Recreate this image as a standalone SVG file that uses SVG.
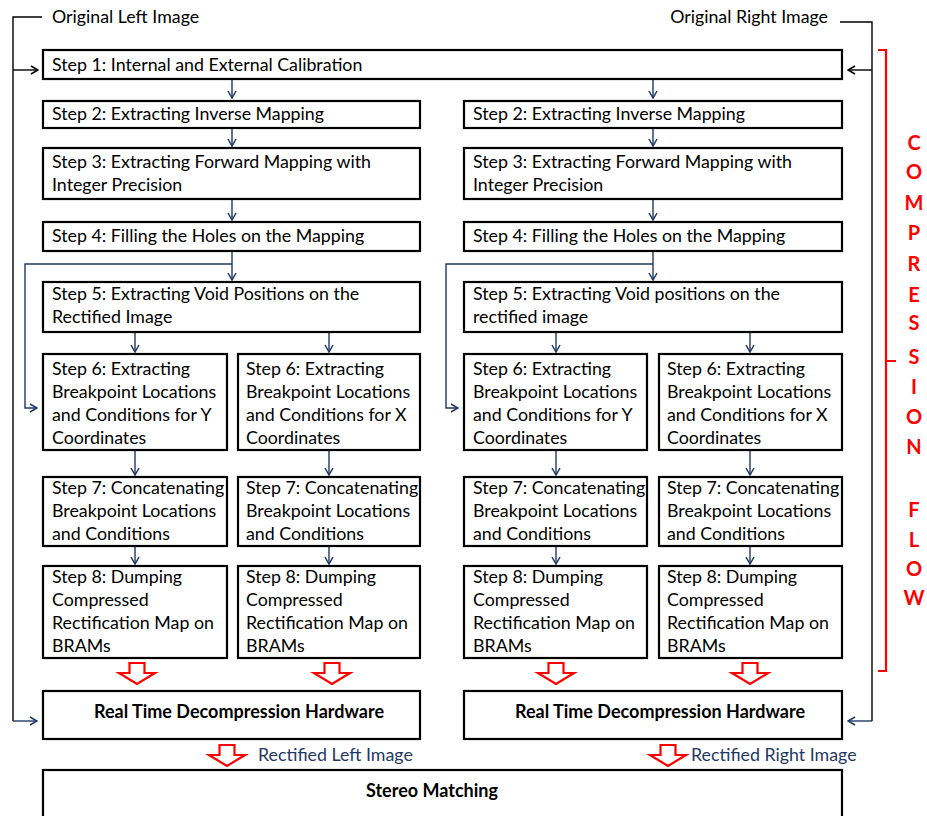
<svg xmlns="http://www.w3.org/2000/svg" width="927" height="816" viewBox="0 0 927 816">
<defs>
<style>
.box{fill:#fff;stroke:#000;stroke-width:2.2}
.t{font-family:Lato,"Liberation Sans",sans-serif;font-size:17.8px;fill:#000}
.b{font-family:Lato,"Liberation Sans",sans-serif;font-size:18px;font-weight:bold;fill:#000}
.lbl{font-family:Lato,"Liberation Sans",sans-serif;font-size:17.8px;fill:#1F3864}
.cf{font-family:Lato,"Liberation Sans",sans-serif;font-size:20px;font-weight:bold;fill:#FF0000;text-anchor:middle}
.blu{fill:none;stroke:#1F3864;stroke-width:1.4}
.blk{fill:none;stroke:#000;stroke-width:1.4}
.red{fill:#fff;stroke:#FF0000;stroke-width:2.2;stroke-linejoin:miter}
</style>
<marker id="ab" viewBox="0 0 10 10" refX="9" refY="5" markerWidth="10" markerHeight="10" markerUnits="userSpaceOnUse" orient="auto">
<path d="M2,1 L9,5 L2,9" fill="none" stroke="#1F3864" stroke-width="1.5"/>
</marker>
<marker id="ak" viewBox="0 0 10 10" refX="9" refY="5" markerWidth="10" markerHeight="10" markerUnits="userSpaceOnUse" orient="auto">
<path d="M2,1 L9,5 L2,9" fill="none" stroke="#000" stroke-width="1.5"/>
</marker>
<path id="bigarrow" d="M-7.5,0 H7.5 V10 H18 L0,21 L-18,10 H-7.5 Z"/>
</defs>

<g id="connectors">
<path class="blk" d="M42,17 H13 V721"/>
<path class="blk" d="M13,70 H38" marker-end="url(#ak)"/>
<path class="blk" d="M840,22 H872 V721"/>
<path class="blk" d="M872,70 H848" marker-end="url(#ak)"/>
<path class="blu" d="M13,721 H37" marker-end="url(#ab)"/>
<path class="blu" d="M872,721 H848" marker-end="url(#ab)"/>
<path class="blu" d="M232,80 V98" marker-end="url(#ab)"/>
<path class="blu" d="M232,128 V146" marker-end="url(#ab)"/>
<path class="blu" d="M232,199 V220" marker-end="url(#ab)"/>
<path class="blu" d="M232,252 V280" marker-end="url(#ab)"/>
<path class="blu" d="M232,264 H25 V408 H37" marker-end="url(#ab)"/>
<path class="blu" d="M135,332 V352" marker-end="url(#ab)"/>
<path class="blu" d="M329,332 V352" marker-end="url(#ab)"/>
<path class="blu" d="M135,451 V475" marker-end="url(#ab)"/>
<path class="blu" d="M329,451 V475" marker-end="url(#ab)"/>
<path class="blu" d="M135,547 V564" marker-end="url(#ab)"/>
<path class="blu" d="M329,547 V564" marker-end="url(#ab)"/>
<path class="blu" d="M653,80 V98" marker-end="url(#ab)"/>
<path class="blu" d="M653,128 V146" marker-end="url(#ab)"/>
<path class="blu" d="M653,199 V220" marker-end="url(#ab)"/>
<path class="blu" d="M653,252 V280" marker-end="url(#ab)"/>
<path class="blu" d="M653,264 H446 V408 H458" marker-end="url(#ab)"/>
<path class="blu" d="M556,332 V352" marker-end="url(#ab)"/>
<path class="blu" d="M750,332 V352" marker-end="url(#ab)"/>
<path class="blu" d="M556,451 V475" marker-end="url(#ab)"/>
<path class="blu" d="M750,451 V475" marker-end="url(#ab)"/>
<path class="blu" d="M556,547 V564" marker-end="url(#ab)"/>
<path class="blu" d="M750,547 V564" marker-end="url(#ab)"/>
<use href="#bigarrow" class="red" transform="translate(137,663)"/>
<use href="#bigarrow" class="red" transform="translate(332,663)"/>
<use href="#bigarrow" class="red" transform="translate(556,663)"/>
<use href="#bigarrow" class="red" transform="translate(750,663)"/>
<use href="#bigarrow" class="red" transform="translate(227,745)"/>
<use href="#bigarrow" class="red" transform="translate(668,745)"/>
</g>

<text class="t" x="52" y="23">Original Left Image</text>
<text class="t" x="828" y="23" text-anchor="end">Original Right Image</text>

<g id="step1"><rect class="box" x="43" y="50" width="799" height="29"/><text class="t" x="52" y="71">Step 1: Internal and External Calibration</text></g>

<g id="step2L"><rect class="box" x="43" y="101" width="377" height="27"/><text class="t" x="52" y="120">Step 2: Extracting Inverse Mapping</text></g>
<g id="step2R"><rect class="box" x="464" y="101" width="378" height="27"/><text class="t" x="473" y="120">Step 2: Extracting Inverse Mapping</text></g>

<g id="step3L"><rect class="box" x="43" y="148" width="377" height="51"/><text class="t" x="52" y="168">Step 3: Extracting Forward Mapping with</text><text class="t" x="52" y="191">Integer Precision</text></g>
<g id="step3R"><rect class="box" x="464" y="148" width="378" height="51"/><text class="t" x="473" y="168">Step 3: Extracting Forward Mapping with</text><text class="t" x="473" y="191">Integer Precision</text></g>

<g id="step4L"><rect class="box" x="43" y="222" width="377" height="29"/><text class="t" x="52" y="242">Step 4: Filling the Holes on the Mapping</text></g>
<g id="step4R"><rect class="box" x="464" y="222" width="378" height="29"/><text class="t" x="473" y="242">Step 4: Filling the Holes on the Mapping</text></g>

<g id="step5L"><rect class="box" x="43" y="282" width="377" height="50"/><text class="t" x="52" y="300">Step 5: Extracting Void Positions on the</text><text class="t" x="52" y="323">Rectified Image</text></g>
<g id="step5R"><rect class="box" x="464" y="282" width="378" height="50"/><text class="t" x="473" y="300">Step 5: Extracting Void positions on the</text><text class="t" x="473" y="323">rectified image</text></g>

<g id="step6LY"><rect class="box" x="43" y="354" width="184" height="96"/><text class="t" x="52" y="375">Step 6: Extracting</text><text class="t" x="52" y="398">Breakpoint Locations</text><text class="t" x="52" y="421">and Conditions for Y</text><text class="t" x="52" y="444">Coordinates</text></g>
<g id="step6LX"><rect class="box" x="238" y="354" width="182" height="96"/><text class="t" x="246" y="375">Step 6: Extracting</text><text class="t" x="246" y="398">Breakpoint Locations</text><text class="t" x="246" y="421">and Conditions for X</text><text class="t" x="246" y="444">Coordinates</text></g>
<g id="step6RY"><rect class="box" x="464" y="354" width="183" height="96"/><text class="t" x="473" y="375">Step 6: Extracting</text><text class="t" x="473" y="398">Breakpoint Locations</text><text class="t" x="473" y="421">and Conditions for Y</text><text class="t" x="473" y="444">Coordinates</text></g>
<g id="step6RX"><rect class="box" x="659" y="354" width="183" height="96"/><text class="t" x="667" y="375">Step 6: Extracting</text><text class="t" x="667" y="398">Breakpoint Locations</text><text class="t" x="667" y="421">and Conditions for X</text><text class="t" x="667" y="444">Coordinates</text></g>

<g id="step7LY"><rect class="box" x="43" y="477" width="184" height="69"/><text class="t" x="52" y="494">Step 7: Concatenating</text><text class="t" x="52" y="517">Breakpoint Locations</text><text class="t" x="52" y="540">and Conditions</text></g>
<g id="step7LX"><rect class="box" x="238" y="477" width="182" height="69"/><text class="t" x="246" y="494">Step 7: Concatenating</text><text class="t" x="246" y="517">Breakpoint Locations</text><text class="t" x="246" y="540">and Conditions</text></g>
<g id="step7RY"><rect class="box" x="464" y="477" width="183" height="69"/><text class="t" x="473" y="494">Step 7: Concatenating</text><text class="t" x="473" y="517">Breakpoint Locations</text><text class="t" x="473" y="540">and Conditions</text></g>
<g id="step7RX"><rect class="box" x="659" y="477" width="183" height="69"/><text class="t" x="667" y="494">Step 7: Concatenating</text><text class="t" x="667" y="517">Breakpoint Locations</text><text class="t" x="667" y="540">and Conditions</text></g>

<g id="step8LY"><rect class="box" x="43" y="566" width="184" height="92"/><text class="t" x="52" y="583">Step 8: Dumping</text><text class="t" x="52" y="606">Compressed</text><text class="t" x="52" y="629">Rectification Map on</text><text class="t" x="52" y="652">BRAMs</text></g>
<g id="step8LX"><rect class="box" x="238" y="566" width="182" height="92"/><text class="t" x="246" y="583">Step 8: Dumping</text><text class="t" x="246" y="606">Compressed</text><text class="t" x="246" y="629">Rectification Map on</text><text class="t" x="246" y="652">BRAMs</text></g>
<g id="step8RY"><rect class="box" x="464" y="566" width="183" height="92"/><text class="t" x="473" y="583">Step 8: Dumping</text><text class="t" x="473" y="606">Compressed</text><text class="t" x="473" y="629">Rectification Map on</text><text class="t" x="473" y="652">BRAMs</text></g>
<g id="step8RX"><rect class="box" x="659" y="566" width="183" height="92"/><text class="t" x="667" y="583">Step 8: Dumping</text><text class="t" x="667" y="606">Compressed</text><text class="t" x="667" y="629">Rectification Map on</text><text class="t" x="667" y="652">BRAMs</text></g>

<g id="decompL"><rect class="box" x="43" y="691" width="377" height="48"/><text class="b" x="239" y="718" text-anchor="middle">Real Time Decompression Hardware</text></g>
<g id="decompR"><rect class="box" x="464" y="691" width="378" height="48"/><text class="b" x="660" y="718" text-anchor="middle">Real Time Decompression Hardware</text></g>

<text class="lbl" x="258" y="761">Rectified Left Image</text>
<text class="lbl" x="691" y="761">Rectified Right Image</text>

<g id="stereo"><rect class="box" x="43" y="770" width="799" height="60"/><text class="b" x="432" y="797" text-anchor="middle">Stereo Matching</text></g>

<g id="compression-flow">
<path d="M878,50 H886 V361 H896 M886,361 V671 H878" fill="none" stroke="#FF0000" stroke-width="2.2"/>
<text class="cf" x="914" y="150">C</text>
<text class="cf" x="914" y="179">O</text>
<text class="cf" x="914" y="210">M</text>
<text class="cf" x="914" y="240">P</text>
<text class="cf" x="914" y="271">R</text>
<text class="cf" x="914" y="302">E</text>
<text class="cf" x="914" y="330">S</text>
<text class="cf" x="914" y="364">S</text>
<text class="cf" x="914" y="394">I</text>
<text class="cf" x="914" y="424">O</text>
<text class="cf" x="914" y="454">N</text>
<text class="cf" x="914" y="517">F</text>
<text class="cf" x="914" y="547">L</text>
<text class="cf" x="914" y="576">O</text>
<text class="cf" x="914" y="605">W</text>
</g>
</svg>
